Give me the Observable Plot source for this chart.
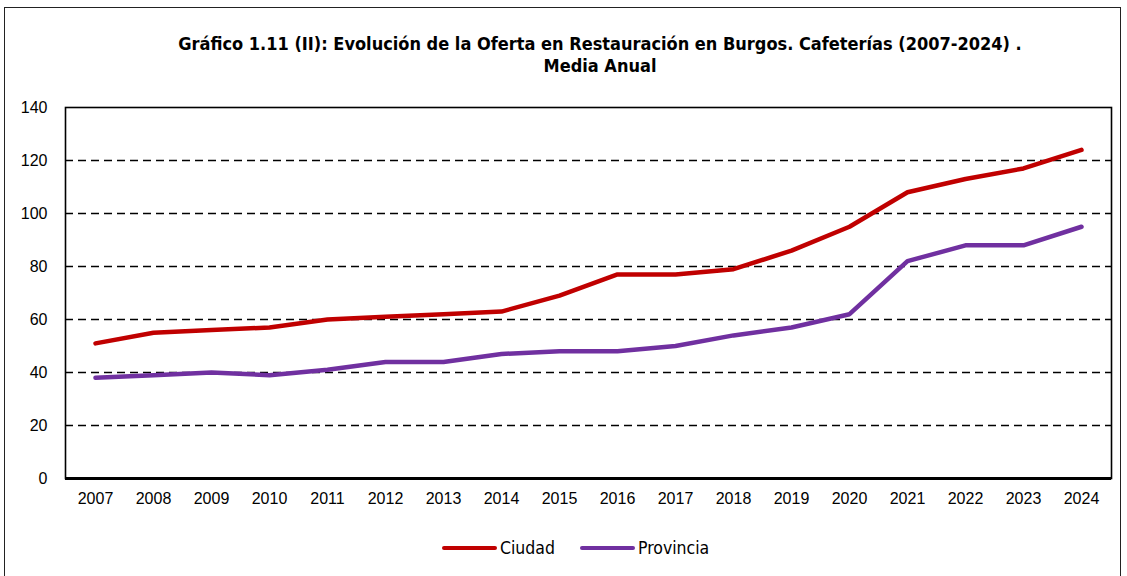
<!DOCTYPE html>
<html>
<head>
<meta charset="utf-8">
<script src="https://cdn.jsdelivr.net/npm/d3@7"></script>
<script src="https://cdn.jsdelivr.net/npm/@observablehq/plot@0.6"></script>
<style>
  html, body { margin: 0; padding: 0; background: #fff; }
  #wrap { position: relative; width: 1127px; height: 576px; overflow: hidden; background: #fff; }
  #border { position: absolute; left: 4px; top: 7px; width: 1117px; height: 600px; border: 1.5px solid #222; box-sizing: border-box; }
  #title { position: absolute; left: 110px; width: 980px; top: 33px; text-align: center;
    font-family: "DejaVu Sans Condensed", "DejaVu Sans", sans-serif; font-stretch: condensed; font-weight: bold; font-size: 18px; line-height: 22px; color: #000; }
  #chart { position: absolute; left: 0; top: 95px; }
  #legend { position: absolute; top: 537px; left: 0; width: 1127px; height: 22px; font-family: "DejaVu Sans Condensed", "DejaVu Sans", sans-serif; font-stretch: condensed; font-size: 17.5px; color: #000; }
  .item { position: absolute; top: 0; display: flex; align-items: center; height: 22px; }
  .swatch { width: 55px; height: 4.5px; border-radius: 3px; margin-right: 3px; }
</style>
</head>
<body>
<div id="wrap">
  <div id="border"></div>
  <div id="title">Gráfico 1.11 (II): Evolución de la Oferta en Restauración en Burgos. Cafeterías (2007-2024) .<br>Media Anual</div>
  <div id="chart"></div>
  <div id="legend"></div>
</div>
<script>
const years = ["2007","2008","2009","2010","2011","2012","2013","2014","2015","2016","2017","2018","2019","2020","2021","2022","2023","2024"];
const ciudad = [51, 55, 56, 57, 60, 61, 62, 63, 69, 77, 77, 79, 86, 95, 108, 113, 117, 124];
const provincia = [38, 39, 40, 39, 41, 44, 44, 47, 48, 48, 50, 54, 57, 62, 82, 88, 88, 95];
const seriesNames = ["Ciudad", "Provincia"];
const seriesColors = ["#C00000", "#7030A0"];
const yTicks = [0, 20, 40, 60, 80, 100, 120, 140];
const gridValues = [20, 40, 60, 80, 100, 120];

const rows = [];
years.forEach((yr, i) => {
  rows.push({year: yr, value: ciudad[i], serie: seriesNames[0]});
  rows.push({year: yr, value: provincia[i], serie: seriesNames[1]});
});

const chart = Plot.plot({
  width: 1127,
  height: 440,
  marginLeft: 65,
  marginRight: 16,
  marginTop: 12,
  marginBottom: 57,
  style: {fontFamily: "'Liberation Sans Narrow', 'Arial Narrow', 'Liberation Sans', sans-serif", fontSize: "16px", color: "#000", background: "transparent"},
  x: {type: "point", domain: years, padding: 0.5, label: null, tickSize: 0, tickPadding: 14},
  y: {domain: [0, 140], ticks: yTicks, label: null, tickSize: 0, tickPadding: 18},
  color: {domain: seriesNames, range: seriesColors},
  marks: [
    Plot.ruleY(gridValues, {stroke: "#000", strokeWidth: 1.6, strokeDasharray: "8,5"}),
    Plot.frame({stroke: "#000", strokeWidth: 1.6}),
    Plot.ruleY([0], {stroke: "#000", strokeWidth: 3}),
    Plot.lineY(rows, {x: "year", y: "value", z: "serie", stroke: "serie", strokeWidth: 4.5, strokeLinejoin: "round", strokeLinecap: "round"})
  ]
});
document.getElementById("chart").appendChild(chart);

const legend = document.getElementById("legend");
const positions = [442, 580];
seriesNames.forEach((name, i) => {
  const item = document.createElement("div");
  item.className = "item";
  item.style.left = positions[i] + "px";
  const sw = document.createElement("div");
  sw.className = "swatch";
  sw.style.background = seriesColors[i];
  const label = document.createElement("span");
  label.textContent = name;
  item.appendChild(sw);
  item.appendChild(label);
  legend.appendChild(item);
});
</script>
</body>
</html>
